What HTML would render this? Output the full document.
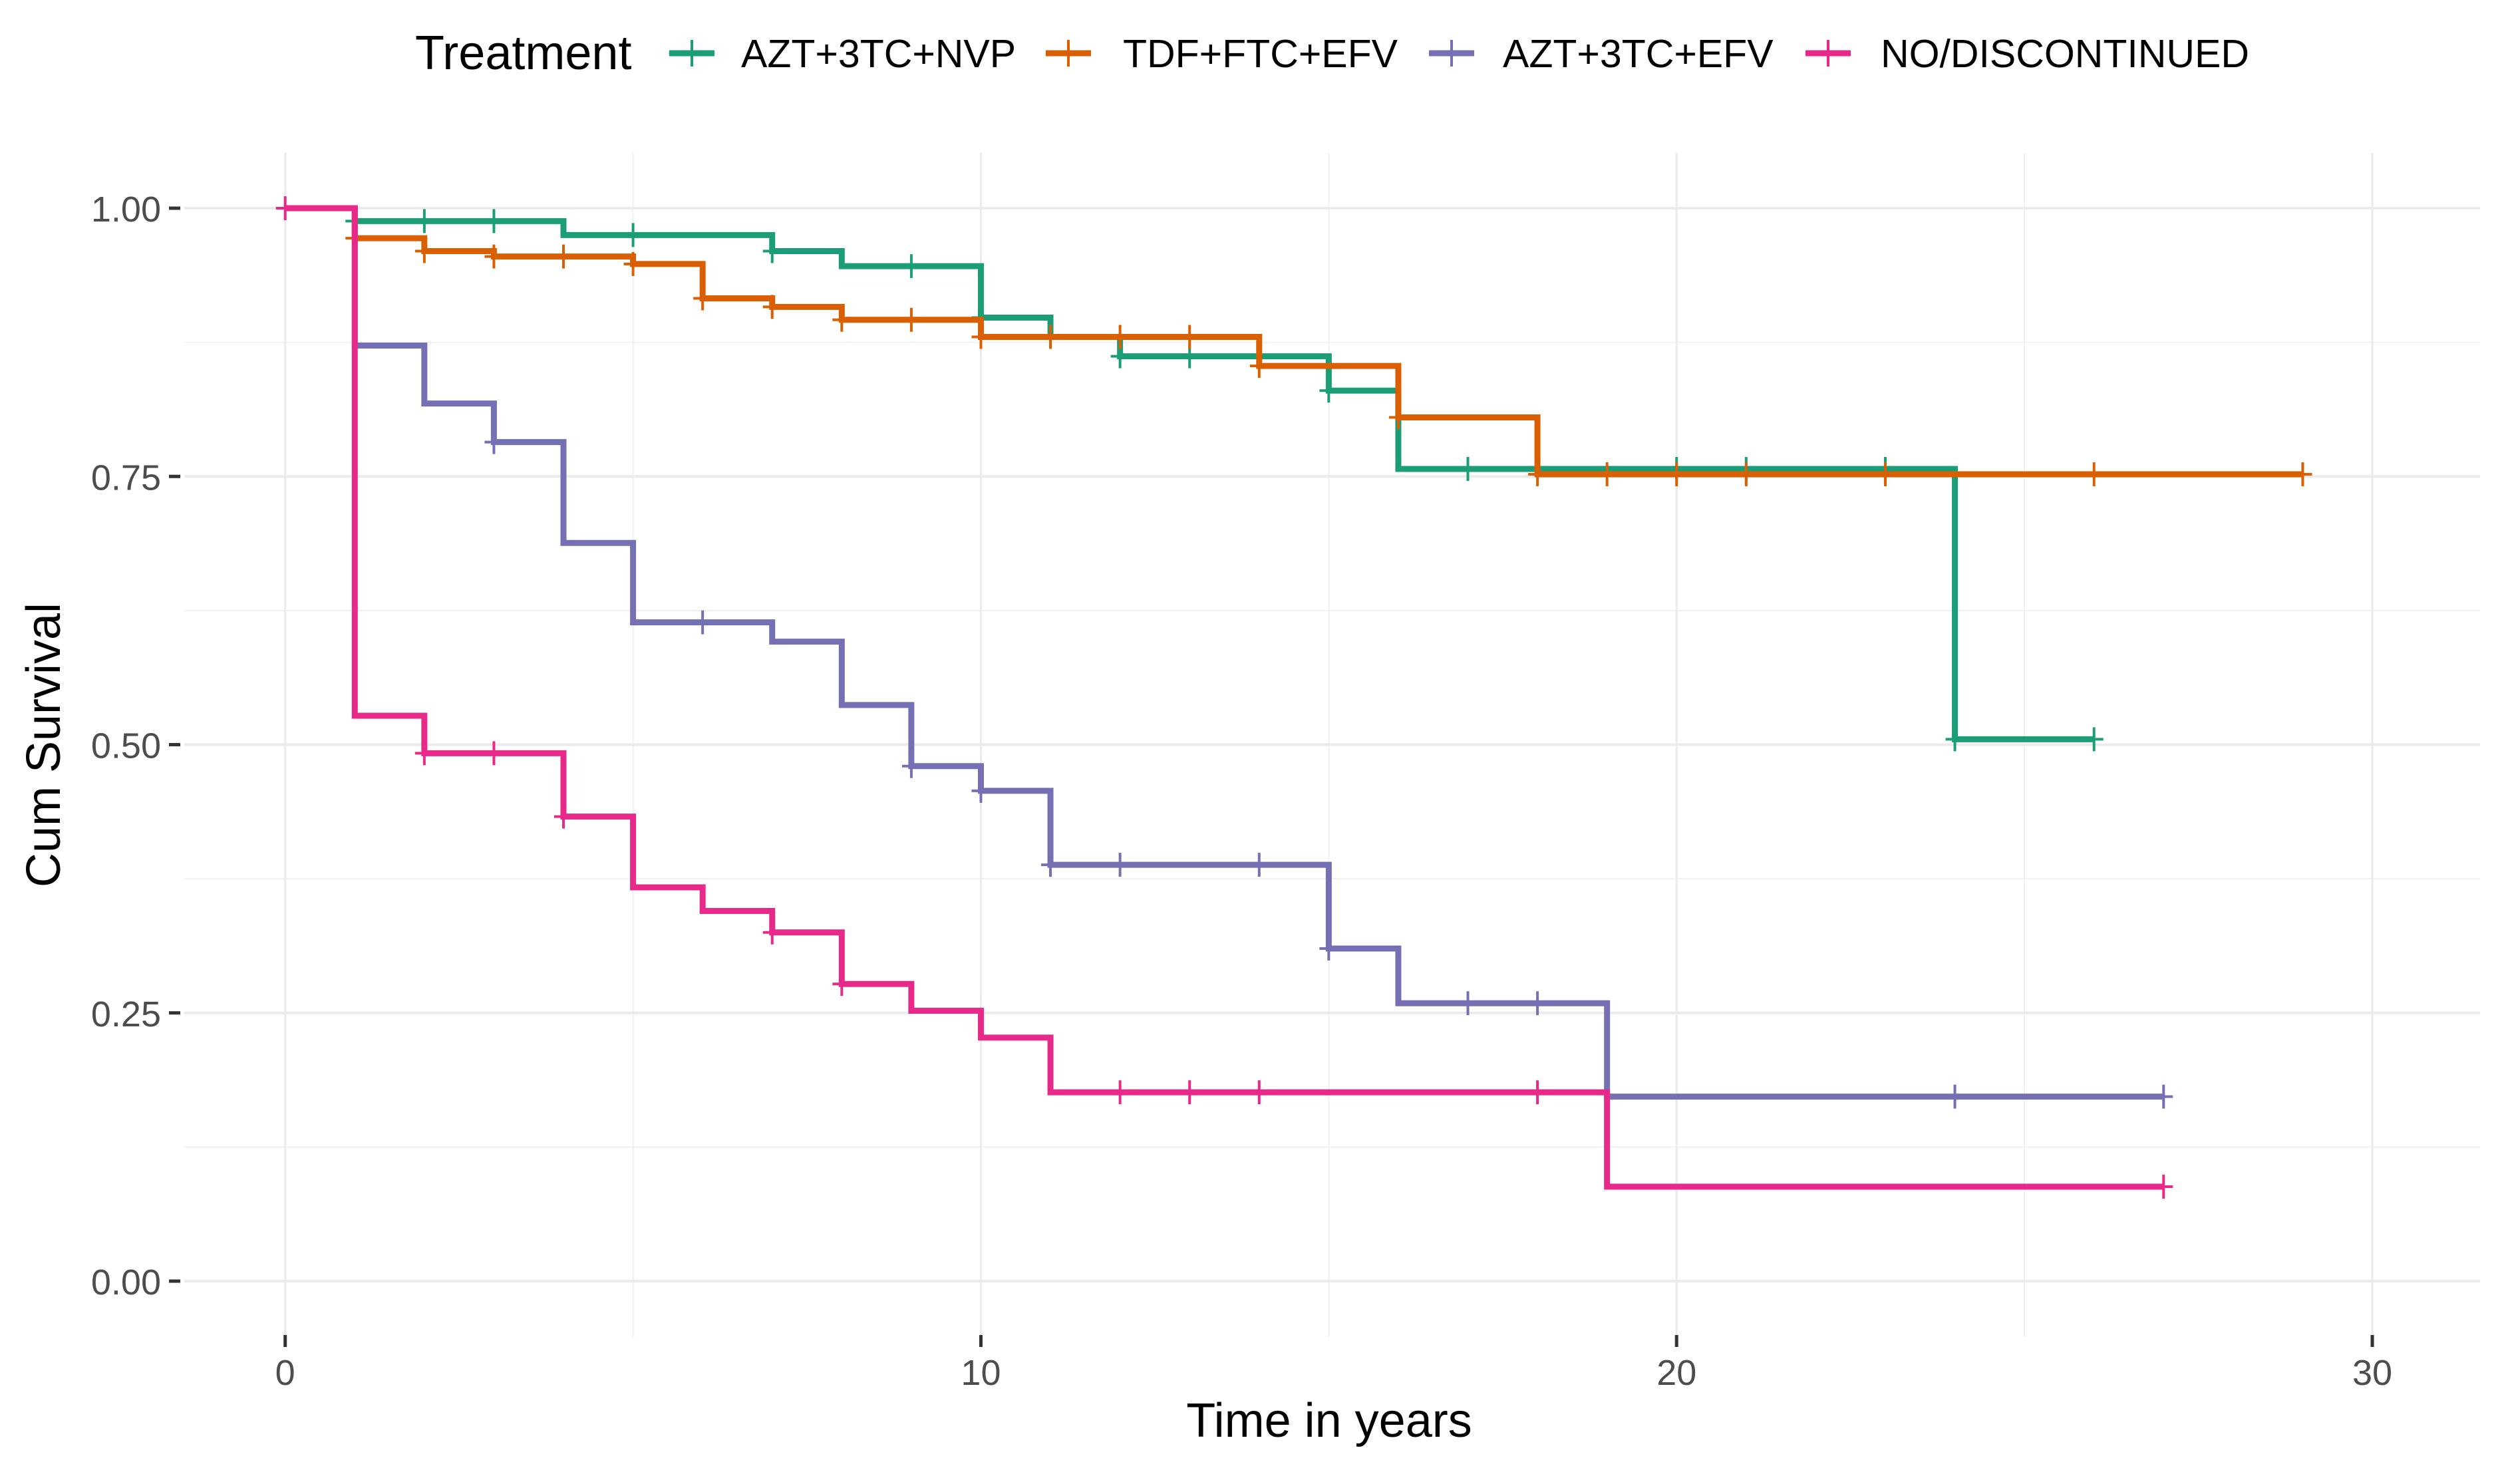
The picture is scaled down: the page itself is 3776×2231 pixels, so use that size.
<!DOCTYPE html>
<html><head><meta charset="utf-8"><style>
html,body{margin:0;padding:0;background:#fff;}
svg{display:block;font-family:"Liberation Sans",Arial,sans-serif;}
</style></head><body>
<svg id="chart" width="3776" height="2231" viewBox="0 0 3776 2231" xmlns="http://www.w3.org/2000/svg">
<g id="grid"></g>
<g id="axes"></g>
<g id="series"></g>
<g id="legend"></g>
<text x="1998" y="2160" font-size="72" text-anchor="middle" fill="#000">Time in years</text>
<text transform="translate(90,1120) rotate(-90)" font-size="72" text-anchor="middle" fill="#000">Cum Survival</text>
</svg>
<script>
const seriesNames = ["AZT+3TC+NVP","TDF+FTC+EFV","AZT+3TC+EFV","NO/DISCONTINUED"];
const seriesColors = ["#1b9e77","#d95f02","#7570b3","#e7298a"];
const nvpTimes = [0,1,4,7,8,10,11,12,15,16,24];
const nvpSurv  = [1,0.988,0.975,0.96,0.946,0.898,0.88,0.862,0.83,0.757,0.505];
const nvpEnd = 26;
const nvpCensor = [1,2,3,5,7,9,10,12,13,15,17,20,21,23,24,26];
const tdfTimes = [0,1,2,3,5,6,7,8,10,14,16,18];
const tdfSurv  = [1,0.972,0.96,0.955,0.948,0.916,0.908,0.896,0.88,0.853,0.805,0.752];
const tdfEnd = 29;
const tdfCensor = [1,2,3,4,5,6,7,8,9,10,11,12,13,14,16,18,19,20,21,23,26,29];
const efvTimes = [0,1,2,3,4,5,7,8,9,10,11,15,16,19];
const efvSurv  = [1,0.872,0.818,0.782,0.688,0.614,0.596,0.537,0.48,0.457,0.388,0.31,0.259,0.172];
const efvEnd = 27;
const efvCensor = [3,6,9,10,11,12,14,15,17,18,24,27];
const noTimes = [0,1,2,4,5,6,7,8,9,10,11,19];
const noSurv  = [1,0.527,0.492,0.433,0.367,0.345,0.325,0.277,0.252,0.227,0.176,0.088];
const noEnd = 27;
const noCensor = [0,2,3,4,7,8,12,13,14,18,27];
const xTicks = [0,10,20,30];
const xTickLabels = ["0","10","20","30"];
const yTicks = [0,0.25,0.5,0.75,1];
const yTickLabels = ["0.00","0.25","0.50","0.75","1.00"];

const NS="http://www.w3.org/2000/svg";
const X0=428.7, X30=3566, Y1=313, Y0=1926;
const px=t=>X0+(X30-X0)*t/30;
const py=s=>Y0+(Y1-Y0)*s;
const PL=277, PR=3728, PT=230, PB=2010;
function el(tag,attrs,parent){const e=document.createElementNS(NS,tag);for(const k in attrs)e.setAttribute(k,attrs[k]);parent.appendChild(e);return e;}
const grid=document.getElementById('grid'), axes=document.getElementById('axes'), ser=document.getElementById('series'), leg=document.getElementById('legend');
for(let t=5;t<=30;t+=10){const l=el('line',{x1:px(t),x2:px(t),y1:PT,y2:PB,stroke:'#f0f0f0','stroke-width':2},grid);

}
for(let s=0.125;s<1;s+=0.25){const l=el('line',{x1:PL,x2:PR,y1:py(s),y2:py(s),stroke:'#f0f0f0','stroke-width':2},grid);

}
xTicks.forEach((t,i)=>{
 const l=el('line',{x1:px(t),x2:px(t),y1:PT,y2:PB,stroke:'#ebebeb','stroke-width':3},grid);
 
 
 const tk=el('line',{x1:px(t),x2:px(t),y1:2007,y2:2025,stroke:'#333','stroke-width':5},axes);
 
 
 const tx=el('text',{x:px(t),y:2082,'font-size':54,'text-anchor':'middle',fill:'#4d4d4d'},axes);
 tx.textContent=xTickLabels[i];
 
 
});
yTicks.forEach((s,i)=>{
 const l=el('line',{x1:PL,x2:PR,y1:py(s),y2:py(s),stroke:'#ebebeb','stroke-width':4},grid);
 
 
 const tk=el('line',{x1:254,x2:271,y1:py(s),y2:py(s),stroke:'#333','stroke-width':5},axes);
 
 
 const tx=el('text',{x:242,y:py(s)+20,'font-size':54,'text-anchor':'end',fill:'#4d4d4d'},axes);
 tx.textContent=yTickLabels[i];
 
 
});
const all=[[nvpTimes,nvpSurv,nvpEnd,nvpCensor],[tdfTimes,tdfSurv,tdfEnd,tdfCensor],[efvTimes,efvSurv,efvEnd,efvCensor],[noTimes,noSurv,noEnd,noCensor]];
function survAt(T,S,t){let v=S[0];for(let i=0;i<T.length;i++){if(T[i]<=t)v=S[i];}return v;}
all.forEach((d,k)=>{
 const [T,S,E,C]=d; const col=seriesColors[k];
 const g=el('g',{},ser);
 
 
 let p='M'+px(T[0])+','+py(S[0]);
 for(let i=1;i<T.length;i++){p+=' H'+px(T[i])+' V'+py(S[i]);}
 p+=' H'+px(E);
 const path=el('path',{d:p,fill:'none',stroke:col,'stroke-width':9,'stroke-linejoin':'miter'},g);
 
 
 C.forEach(t=>{
  const y=py(survAt(T,S,t)), x=px(t);
  const m=el('path',{d:`M${x},${y-18} V${y+18} M${x-14},${y} H${x+14}`,stroke:col,'stroke-width':4,fill:'none'},g);
  
  
 });
});
const lt=el('text',{x:624,y:104,'font-size':72,fill:'#000'},leg);
lt.textContent='Treatment';


const keyX=[1006,1572,2148,2714], txtX=[1114,1688,2259,2827];
seriesNames.forEach((n,k)=>{
 const g=el('g',{},leg);
 
 
 el('path',{d:`M${keyX[k]},80 H${keyX[k]+68}`,stroke:seriesColors[k],'stroke-width':9},g);
 el('path',{d:`M${keyX[k]+34},60 V100`,stroke:seriesColors[k],'stroke-width':4},g);
 const t=el('text',{x:txtX[k],y:101,'font-size':59,fill:'#000'},g);
 t.textContent=n;
 
 
});
</script>
</body></html>
